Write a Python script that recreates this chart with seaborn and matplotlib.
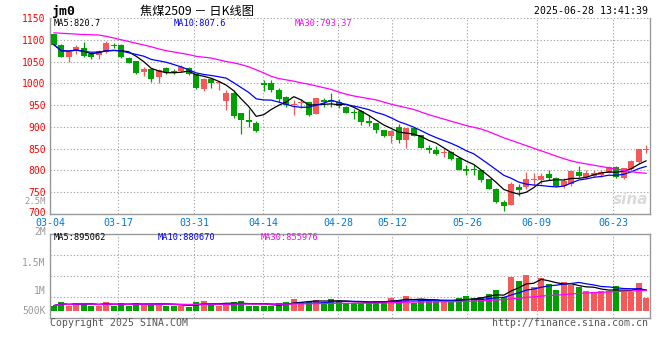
import numpy as np
import pandas as pd
import seaborn as sns
import matplotlib.pyplot as plt
from matplotlib.transforms import ScaledTranslation

# daily candles, 03-04 .. last session (80 bars)
opens = [1113, 1088, 1061, 1076, 1081, 1067, 1066, 1072, 1089, 1088,
         1059, 1051, 1027, 1032, 1015, 1036, 1028, 1028, 1036, 1021,
         987, 1011, 1000, 960, 977, 931, 916, 910, 1001, 1001,
         985, 969, 950, 954, 956, 930, 962, 962, 957, 946,
         935, 936, 914, 908, 893, 878, 900, 870, 897, 881,
         852, 847, 839, 843, 829, 803, 803, 801, 780, 758,
         728, 721, 763, 763, 777, 778, 792, 782, 764, 768,
         796, 786, 788, 789, 795, 809, 783, 803, 820, 847]
highs = [1114, 1090, 1073, 1088, 1095, 1069, 1077, 1097, 1092, 1091,
         1060, 1052, 1038, 1034, 1034, 1037, 1034, 1041, 1037, 1022,
         1012, 1012, 1005, 985, 985, 933, 941, 913, 1008, 1008,
         990, 970, 962, 963, 958, 967, 966, 977, 964, 947,
         940, 938, 927, 909, 894, 892, 907, 898, 898, 882,
         858, 855, 851, 845, 830, 813, 812, 802, 781, 759,
         732, 774, 768, 796, 794, 795, 801, 784, 782, 799,
         810, 801, 800, 802, 811, 811, 806, 823, 850, 858]
lows = [1087, 1060, 1050, 1067, 1061, 1057, 1057, 1069, 1081, 1058,
        1046, 1022, 1017, 1004, 1000, 1022, 1022, 1026, 1018, 986,
        983, 990, 985, 939, 920, 884, 900, 888, 982, 980,
        958, 946, 927, 943, 925, 929, 946, 946, 943, 931,
        918, 904, 903, 887, 877, 864, 864, 852, 878, 851,
        839, 836, 832, 824, 800, 790, 790, 774, 757, 726,
        708, 720, 742, 758, 767, 768, 778, 763, 759, 764,
        786, 782, 785, 785, 793, 782, 780, 802, 818, 841]
closes = [1089, 1061, 1072, 1083, 1063, 1060, 1075, 1093, 1086, 1061,
          1047, 1023, 1032, 1009, 1031, 1027, 1023, 1038, 1021, 989,
          1010, 1000, 1003, 977, 925, 916, 912, 891, 996, 985,
          964, 950, 952, 958, 927, 966, 956, 957, 948, 933,
          931, 912, 908, 893, 878, 891, 870, 897, 880, 852,
          846, 838, 843, 826, 801, 799, 800, 778, 758, 727,
          719, 769, 755, 780, 780, 787, 782, 765, 776, 798,
          788, 794, 794, 797, 809, 786, 805, 822, 849, 849]
# 30-day average (needs history before 03-04)
ma30 = [1116, 1115, 1114, 1113, 1112, 1111.5, 1111, 1108, 1104, 1100,
        1096, 1092, 1088, 1084, 1079, 1075, 1072, 1069, 1066, 1062,
        1060, 1058, 1054, 1050, 1047, 1043, 1038, 1031, 1024, 1016,
        1011, 1008, 1005, 1001, 998, 994, 990, 986, 980, 975,
        971, 968, 965, 962, 957, 952, 948, 944, 940, 934,
        928, 923, 918, 913, 908, 903, 899, 895, 889, 882,
        875, 869, 863, 857, 851, 845, 839, 833, 827, 822,
        818, 815, 812, 809, 806, 803, 800, 797, 795, 793.37]
volumes = [720, 786, 720, 768, 768, 720, 720, 786, 720, 768,
           720, 768, 750, 750, 768, 720, 720, 720, 702, 786,
           809, 750, 720, 750, 786, 809, 720, 720, 720, 720,
           768, 786, 839, 786, 786, 821, 786, 839, 809, 762,
           762, 762, 786, 809, 786, 863, 821, 898, 774, 833,
           809, 809, 786, 786, 863, 898, 863, 880, 929, 1000,
           869, 1238, 1167, 1268, 1060, 1220, 1107, 1000, 1149, 1083,
           1060, 988, 970, 988, 988, 1071, 964, 964, 1131, 863]
volumes = [v * 1000 for v in volumes]

# header values as printed on the chart
price_ma_text = ["MA5:820.7", "MA10:807.6", "MA30:793.37"]
vol_ma_text = ["MA5:895062", "MA10:880670", "MA30:855976"]

tick_labels = ["03-04", "03-17", "03-31", "04-14", "04-28",
               "05-12", "05-26", "06-09", "06-23"]
price_ticks = list(range(700, 1151, 50))
vol_ticks = [500000, 1000000, 1500000, 2000000]
vol_tick_labels = ["500K", "1M", "1.5M", "2M"]

# layout
tick_pos = [-0.5, 8.6, 18.7, 27.9, 37.9, 45.1, 55.1, 64.4, 74.6]
vol_base = 630000
RED, GREEN = "#f55a5a", "#00a000"
GRID = "#a8a8a8"
BORDER = "#999999"
MONO = ["DejaVu Sans Mono", "Noto Sans CJK SC"]

sns.set_theme(style="white")
plt.rcParams["font.family"] = MONO

df = pd.DataFrame({"open": opens, "high": highs, "low": lows,
                   "close": closes, "ma30": ma30, "vol": volumes})
df["idx"] = np.arange(len(df))
df["ma5"] = df["close"].rolling(5, min_periods=1).mean()
df["ma10"] = df["close"].rolling(10, min_periods=1).mean()
df["vma5"] = df["vol"].rolling(5, min_periods=1).mean()
df["vma10"] = df["vol"].rolling(10, min_periods=1).mean()
df["vma30"] = df["vol"].rolling(30, min_periods=1).mean()
up = df["close"] >= df["open"]
colors = np.where(up, RED, GREEN)

fig = plt.figure(figsize=(6.6, 3.6), dpi=100)
W, H = 660, 360
ax = fig.add_axes([50 / W, 1 - 214 / H, 600 / W, 196 / H])
axv = fig.add_axes([50 / W, 1 - 318 / H, 600 / W, 84 / H])

# price panel
body_lo = df[["open", "close"]].min(axis=1)
body_h = (df["close"] - df["open"]).abs().clip(lower=1.6)
ax.vlines(df["idx"], df["low"], df["high"], colors=colors, lw=0.9, zorder=2)
ax.bar(df["idx"], body_h, bottom=body_lo, width=0.76, color=colors,
       linewidth=0, zorder=3)
for col, c in [("ma5", "black"), ("ma10", "#0000ff"), ("ma30", "#ff00ff")]:
    sns.lineplot(data=df, x="idx", y=col, ax=ax, color=c, lw=0.9,
                 legend=False, zorder=4)

ax.set_xlim(-0.5, len(df) - 0.5)
ax.set_ylim(700, 1150)
ax.set_yticks(price_ticks)
ax.set_yticklabels([str(p) for p in price_ticks])
ax.set_xticks(tick_pos)
ax.set_xticklabels(tick_labels)
ax.tick_params(axis="y", length=0, pad=3, labelsize=7, labelcolor="#ff0000")
ax.tick_params(axis="x", length=0, pad=2.8, labelsize=7.2, labelcolor="#0078d7")
ax.grid(True, color=GRID, lw=0.8, ls=(0, (1.2, 1.8)))
ax.set_xlabel("")
ax.set_ylabel("")
ax.spines["top"].set_visible(False)
for s in ["left", "right", "bottom"]:
    ax.spines[s].set_color(BORDER)
    ax.spines[s].set_linewidth(1)
plabs = ax.get_yticklabels()
plabs[0].set_transform(plabs[0].get_transform()
                       + ScaledTranslation(0, 0.02, fig.dpi_scale_trans))

# volume panel
axv.bar(df["idx"], df["vol"] - vol_base, bottom=vol_base, width=0.76,
        color=colors, linewidth=0, zorder=3)
for col, c in [("vma5", "black"), ("vma10", "#0000ff"), ("vma30", "#ff00ff")]:
    sns.lineplot(data=df, x="idx", y=col, ax=axv, color=c, lw=0.9,
                 legend=False, zorder=4)
axv.set_xlim(-0.5, len(df) - 0.5)
axv.set_ylim(500000, 2000000)
axv.set_yticks(vol_ticks)
axv.set_yticklabels(vol_tick_labels)
axv.set_xticks(tick_pos)
axv.set_xticklabels([])
axv.tick_params(axis="y", length=0, pad=3, labelsize=7, labelcolor="#999999")
axv.tick_params(axis="x", length=0)
axv.grid(True, axis="x", color=GRID, lw=0.8, ls=(0, (1.2, 1.8)))
for f in [0.25, 0.5, 0.75]:
    axv.axhline(500000 + f * 1500000, color=GRID, lw=0.8, ls=(0, (1.2, 1.8)),
                zorder=1)
axv.set_xlabel("")
axv.set_ylabel("")
for s in axv.spines.values():
    s.set_color(BORDER)
    s.set_linewidth(1)
labs = axv.get_yticklabels()
labs[0].set_transform(labs[0].get_transform()
                      + ScaledTranslation(0, 0.08, fig.dpi_scale_trans))
labs[-1].set_transform(labs[-1].get_transform()
                       + ScaledTranslation(0, 0.03, fig.dpi_scale_trans))


def put(x, y, s, **kw):
    fig.text(x / W, 1 - y / H, s, va="center", **kw)


put(51, 11.5, "jm0", size=9.5, weight="bold", color="black")
put(140, 11.5, "焦煤2509 － 日K线图", size=8.8, color="black",
    family=["Noto Sans CJK SC", "DejaVu Sans"])
put(648, 11.5, "2025-06-28 13:41:39", size=7.1, ha="right", color="black")
put(54, 23.5, price_ma_text[0], size=6.2, color="black")
put(174, 23.5, price_ma_text[1], size=6.2, color="#0000ff")
put(295, 23.5, price_ma_text[2], size=6.2, color="#ff00ff")
put(54, 237.5, vol_ma_text[0], size=6.2, color="black")
put(158, 237.5, vol_ma_text[1], size=6.2, color="#0000ff")
put(261, 237.5, vol_ma_text[2], size=6.2, color="#ff00ff")
put(46, 202, "2.5M", size=6.4, ha="right", color="#999999")
put(50, 323.5, "Copyright 2025 SINA.COM", size=7.1, color="#555555")
put(648, 323.5, "http://finance.sina.com.cn", size=7.1, ha="right",
    color="#555555")
put(648, 200, "sina", size=11, ha="right", color="#dadada", style="italic",
    weight="bold", family=["DejaVu Sans"])

fig.savefig("out.png", dpi=100)
